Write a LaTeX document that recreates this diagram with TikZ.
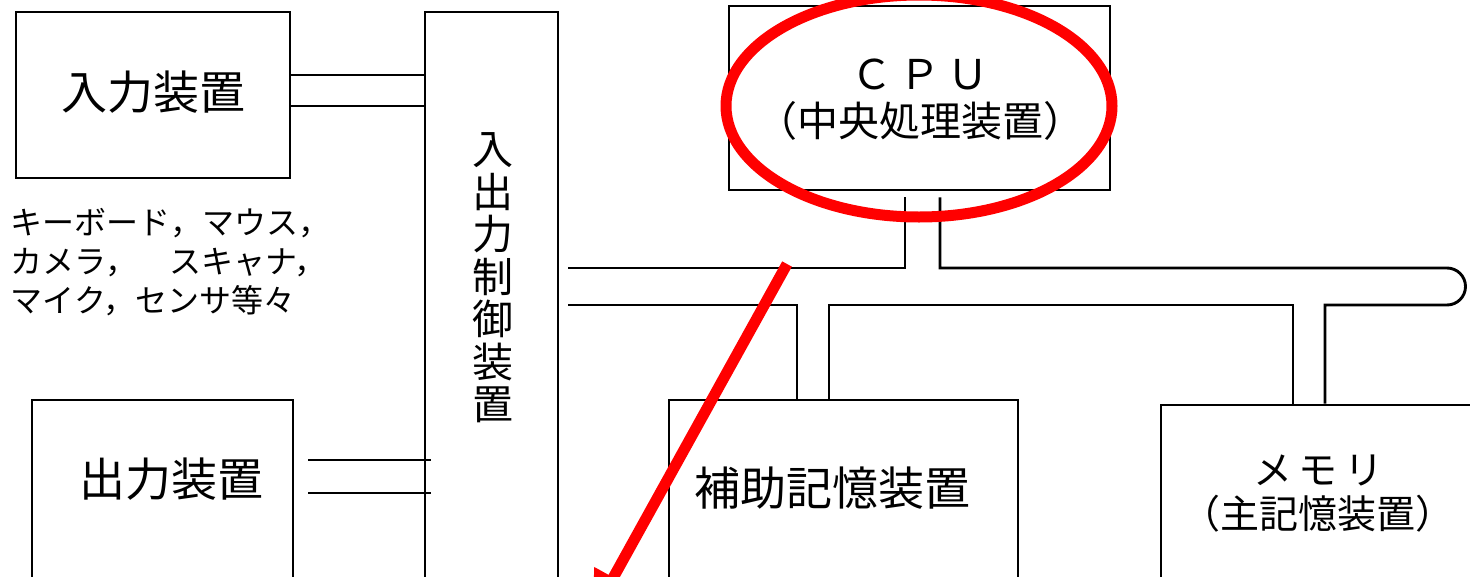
\documentclass[tikz,border=0pt]{standalone}
\usepackage{fontspec}
\newfontfamily\jpfont{Noto Sans CJK JP}
\usetikzlibrary{calc,arrows.meta}
\begin{document}
\begin{tikzpicture}[x=1pt,y=-1pt,line width=2.9pt,font=\jpfont,
	box/.style={draw,rectangle,inner sep=0pt},
	big/.style={font=\jpfont\fontsize{46}{50}\selectfont},
	mid/.style={font=\jpfont\fontsize{41}{47}\selectfont,align=center},
	small/.style={font=\jpfont\fontsize{32}{39}\selectfont,align=left,anchor=west},
	redmark/.style={red,line width=11pt}]
			\useasboundingbox (0,0) rectangle (1470,576);
			\fill[white] (0,0) rectangle (1470,576);
			\clip (0,0) rectangle (1470,576);
			\node[box,minimum width=274,minimum height=166] (inbox) at (153,95) {};
			\node[box,minimum width=261,minimum height=220] (outbox) at (162.5,510) {};
			\node[box,minimum width=133,minimum height=608] (iobox) at (491.5,316) {};
			\node[box,minimum width=381,minimum height=184] (cpubox) at (919.5,98) {};
			\node[box,minimum width=349,minimum height=220] (auxbox) at (843.5,510) {};
			\node[box,minimum width=339,minimum height=215] (membox) at (1330.5,512.5) {};
			\node[big] (intext) at (153,92) {入力装置};
			\node[big] (outtext) at (171,479) {出力装置};
			\node[font=\jpfont\fontsize{41}{42.5}\selectfont,align=center] (iotext) at (493,278) {入\\出\\力\\制\\御\\装\\置};
			\node[mid] (cputext) at (920,100) {Ｃ\,Ｐ\,Ｕ\\（中央処理装置）};
			\node[big] (auxtext) at (832,488) {補助記憶装置};
			\node[mid,font=\jpfont\fontsize{39}{44}\selectfont] (memtext) at (1318,494) {メ\,モ\,リ\\（主記憶装置）};
			\node[small] (devtext) at (6,262) {キーボード，マウス，\\カメラ，　スキャナ，\\マイク，センサ等々};
			\draw (inbox.east |- 0,75) -- (iobox.west |- 0,75) (inbox.east |- 0,106) -- (iobox.west |- 0,106);
			\draw ($(outbox.east |- 0,460)+(14,0)$) -- ($(iobox.west |- 0,460)+(7,0)$) ($(outbox.east |- 0,493)+(14,0)$) -- ($(iobox.west |- 0,493)+(7,0)$);
			\draw ($(iobox.east |- 0,268)+(9,0)$) -| ($(cpubox.south)+(-14.5,6)$);
			\draw ($(cpubox.south)+(20.5,6)$) |- (1447,268) arc[start angle=-90,end angle=90,radius=18.5] -- (1325,305) -- (membox.north -| 1325,0);
			\draw (membox.north -| 1293,0) |- (829,305) -- (auxbox.north -| 829,0);
			\draw (auxbox.north -| 797,0) |- ($(iobox.east |- 0,305)+(9,0)$);
			\draw[redmark] (cpubox.center) ++(-0.5,8) ellipse[x radius=193,y radius=111];
			\coordinate (markS) at (787,264);
			\coordinate (markE) at (592,616);
			\draw[redmark,-{Triangle[length=44pt,width=40pt]}] (markS) -- (markE);
		\end{tikzpicture}
\end{document}
